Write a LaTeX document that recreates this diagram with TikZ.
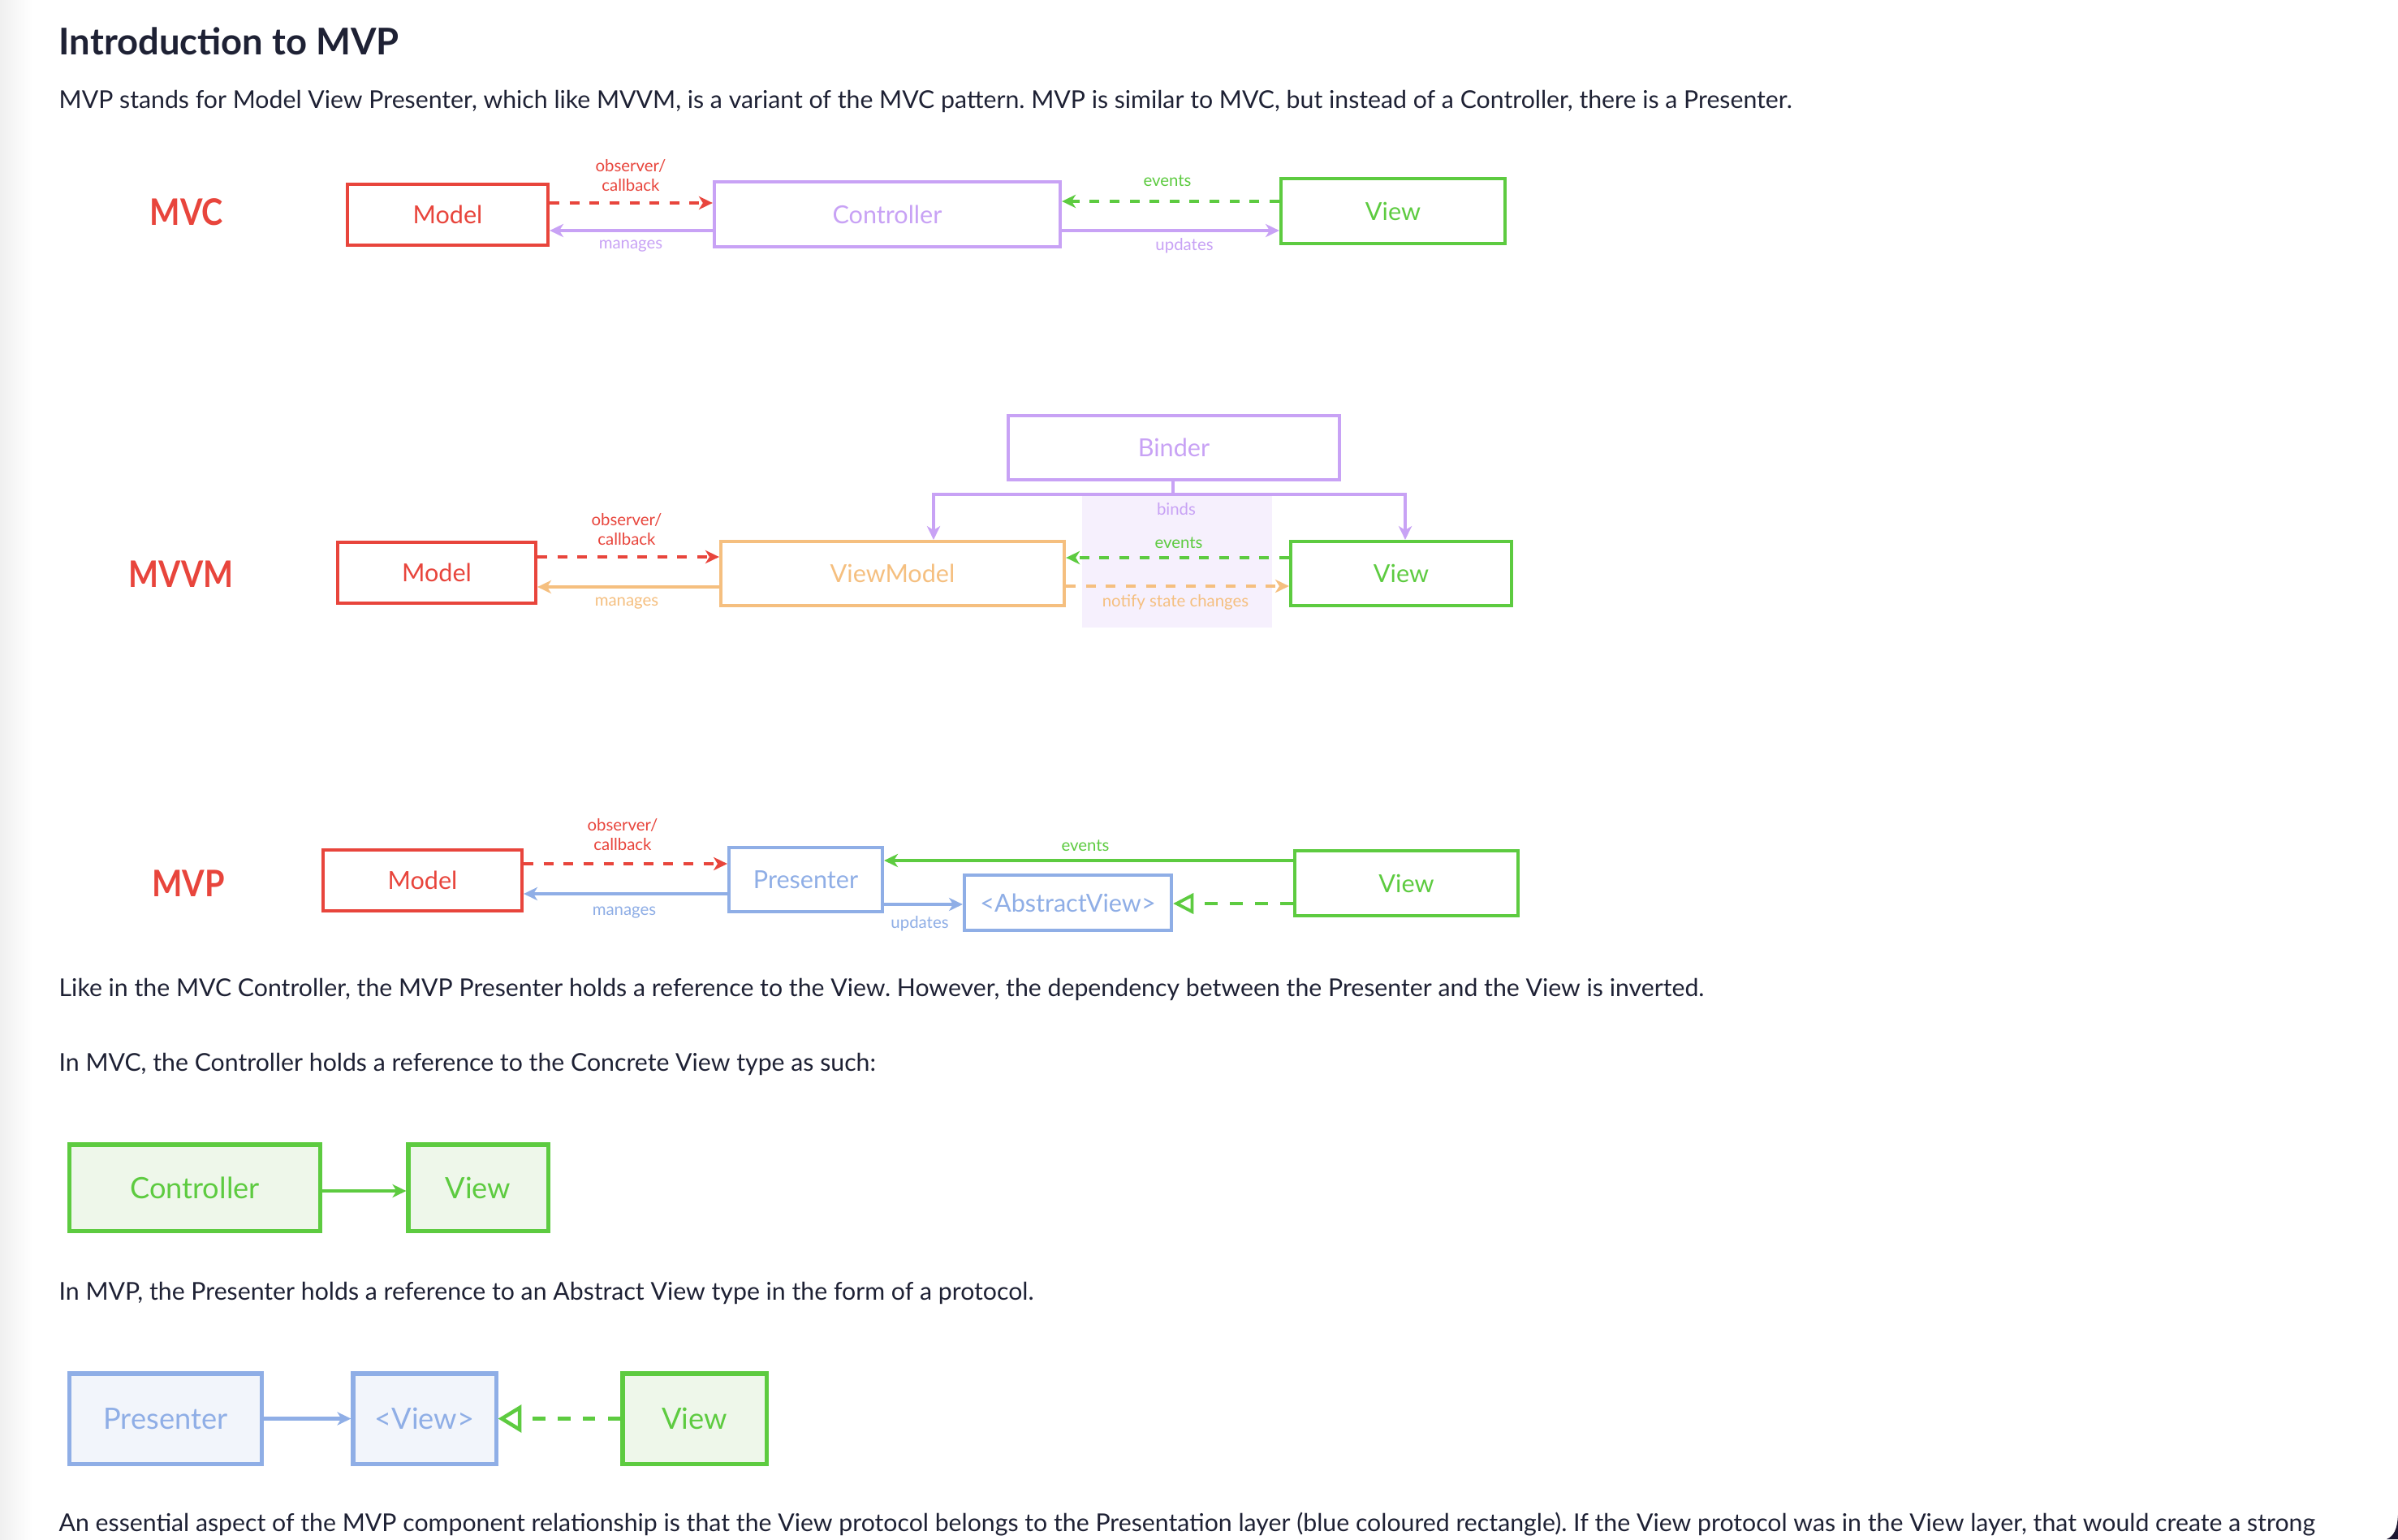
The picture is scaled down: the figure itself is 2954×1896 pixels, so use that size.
\documentclass[tikz,border=0pt]{standalone}
\usepackage{fontspec}
\setmainfont{Lato}
\usetikzlibrary{arrows.meta,calc}
\frenchspacing

\definecolor{ink}{HTML}{1E2134}
\definecolor{mvred}{HTML}{E8453C}
\definecolor{mvpurple}{HTML}{C8A2F5}
\definecolor{mvgreen}{HTML}{5DCB40}
\definecolor{mvorange}{HTML}{F5BF7F}
\definecolor{mvblue}{HTML}{8FAEE6}
\definecolor{lavshade}{HTML}{F6F0FD}
\definecolor{greenfill}{HTML}{EEF7EA}
\definecolor{bluefill}{HTML}{F2F5FB}
\definecolor{corner}{HTML}{1A1530}

\begin{document}
\begin{tikzpicture}[x=0.01cm,y=-0.01cm,
  box/.style={draw=#1, text=#1, line width=1.15pt, inner sep=0pt,
    font=\fontsize{8.7}{10}\selectfont},
  bigbox/.style={draw=#1, text=#1, line width=1.45pt, inner sep=0pt,
    font=\fontsize{10.3}{12}\selectfont},
  tag/.style={text=mvred, font=\fontsize{12.8}{14}\selectfont\bfseries, inner sep=0pt},
  lbl/.style={text=#1, font=\fontsize{5.8}{7}\selectfont, inner sep=0pt, align=center},
  para/.style={text=ink, anchor=base west, inner sep=0pt,
    font=\fontsize{8.6}{10}\selectfont},
  conn/.style={draw=#1, line width=1.1pt},
  tip/.style={-{Stealth[length=4.8pt,width=4.6pt,inset=1.4pt]}},
  dashline/.style={dash pattern=on 3.4pt off 3.6pt},
  longdash/.style={dash pattern=on 4.5pt off 4.3pt},
  realize/.style={-{Triangle[open,length=7.2pt,width=7.2pt,fill=white]}},
  realizebig/.style={-{Triangle[open,length=8.2pt,width=9.6pt,fill=white]}},
]
\useasboundingbox (0,0) rectangle (2954,1896);
\fill[white] (0,0) rectangle (2954,1896);
\shade[left color=black!6, right color=white] (0,0) rectangle (40,1896);

% ---------- text ----------
\node[para, font=\fontsize{12.9}{14}\selectfont\bfseries] (title) at (72,67) {Introduction to MVP};
\node[para] (p1) at (72,133) {MVP stands for Model View Presenter, which like MVVM, is a variant of the MVC pattern. MVP is similar to MVC, but instead of a Controller, there is a Presenter.};
\node[para] (p2) at (72,1227) {Like in the MVC Controller, the MVP Presenter holds a reference to the View. However, the dependency between the Presenter and the View is inverted.};
\node[para] (p3) at (72,1319) {In MVC, the Controller holds a reference to the Concrete View type as such:};
\node[para] (p4) at (72,1601) {In MVP, the Presenter holds a reference to an Abstract View type in the form of a protocol.};
\node[para] (p5) at (72,1886) {An essential aspect of the MVP component relationship is that the View protocol belongs to the Presentation layer (blue coloured rectangle). If the View protocol was in the View layer, that would create a strong};

% ---------- MVC ----------
\node[tag] (mvcTag) at (230,261) {\scalebox{0.88}[1]{MVC}};
\node[box=mvred, minimum width=2.47cm, minimum height=0.75cm] (mvcModel) at (551.5,264.5) {Model};
\node[box=mvpurple, minimum width=4.26cm, minimum height=0.80cm] (mvcCtrl) at (1093,264) {Controller};
\node[box=mvgreen, minimum width=2.76cm, minimum height=0.80cm] (mvcView) at (1716,260) {View};
\coordinate (r1a) at (0,250);
\coordinate (r1b) at (0,284);
\coordinate (r1c) at (0,248);
\draw[conn=mvred, dashline, tip, mvred] (mvcModel.east |- r1a) -- (mvcCtrl.west |- r1a);
\draw[conn=mvpurple, tip, mvpurple] (mvcCtrl.west |- r1b) -- (mvcModel.east |- r1b);
\draw[conn=mvgreen, dashline, tip, mvgreen] (mvcView.west |- r1c) -- (mvcCtrl.east |- r1c);
\draw[conn=mvpurple, tip, mvpurple] (mvcCtrl.east |- r1b) -- (mvcView.west |- r1b);
\node[lbl=mvred] (mvcObs) at (777,216) {observer/\\callback};
\node[lbl=mvpurple] (mvcMan) at (777,303) {manages};
\node[lbl=mvgreen] (mvcEv) at (1438,223) {events};
\node[lbl=mvpurple] (mvcUpd) at (1459,303) {updates};

% ---------- MVVM ----------
\fill[lavshade] (1333,611) rectangle (1567,773);
\node[tag] (mvvmTag) at (223,707) {\scalebox{0.87}[1]{MVVM}};
\node[box=mvred, minimum width=2.44cm, minimum height=0.75cm] (vmModel) at (538,705.5) {Model};
\node[box=mvorange, minimum width=4.23cm, minimum height=0.79cm] (vmVM) at (1099.5,706.5) {ViewModel};
\node[box=mvgreen, minimum width=2.72cm, minimum height=0.79cm] (vmView) at (1726,706.5) {View};
\node[box=mvpurple, minimum width=4.08cm, minimum height=0.79cm] (binder) at (1446,551.5) {Binder};
\coordinate (bj) at (1445,609);
\coordinate (bl) at (1150,609);
\coordinate (br) at (1731,609);
\draw[conn=mvpurple] (binder.south -| bj) -- (bj);
\draw[conn=mvpurple, tip, mvpurple] (bj) -- (bl) -- (bl |- vmVM.north);
\draw[conn=mvpurple, tip, mvpurple] (bj) -- (br) -- (br |- vmView.north);
\coordinate (r2a) at (0,686);
\coordinate (r2b) at (0,723);
\coordinate (r2c) at (0,687);
\coordinate (r2d) at (0,722);
\draw[conn=mvred, dashline, tip, mvred] (vmModel.east |- r2a) -- (vmVM.west |- r2a);
\draw[conn=mvorange, tip, mvorange] (vmVM.west |- r2b) -- (vmModel.east |- r2b);
\draw[conn=mvgreen, dashline, tip, mvgreen] (vmView.west |- r2c) -- (vmVM.east |- r2c);
\draw[conn=mvorange, dashline, tip, mvorange] (vmVM.east |- r2d) -- (vmView.west |- r2d);
\node[lbl=mvred] (vmObs) at (772,652) {observer/\\callback};
\node[lbl=mvorange] (vmMan) at (772,743) {manages};
\node[lbl=mvpurple] (vmBinds) at (1449,627) {binds};
\node[lbl=mvgreen] (vmEv) at (1452,669) {events};
\node[lbl=mvorange] (vmNotify) at (1448,742) {notify state changes};

% ---------- MVP ----------
\node[tag] (mvpTag) at (232,1088) {\scalebox{0.88}[1]{MVP}};
\node[box=mvred, minimum width=2.45cm, minimum height=0.75cm] (mpModel) at (520.5,1084.5) {Model};
\node[box=mvblue, minimum width=1.89cm, minimum height=0.79cm] (pres) at (992.5,1083.5) {Presenter};
\node[box=mvblue, minimum width=2.55cm, minimum height=0.68cm] (absView) at (1315.5,1112) {<AbstractView>};
\node[box=mvgreen, minimum width=2.75cm, minimum height=0.80cm] (mpView) at (1732.5,1088) {View};
\coordinate (r3a) at (0,1064);
\coordinate (r3b) at (0,1101);
\coordinate (r3c) at (0,1060);
\coordinate (r3d) at (0,1114);
\coordinate (r3e) at (0,1113);
\draw[conn=mvred, dashline, tip, mvred] (mpModel.east |- r3a) -- (pres.west |- r3a);
\draw[conn=mvblue, tip, mvblue] (pres.west |- r3b) -- (mpModel.east |- r3b);
\draw[conn=mvgreen, tip, mvgreen] (mpView.west |- r3c) -- (pres.east |- r3c);
\draw[conn=mvblue, tip, mvblue] (pres.east |- r3d) -- (absView.west |- r3d);
\draw[conn=mvgreen, longdash, realize, mvgreen] (mpView.west |- r3e) -- (absView.east |- r3e);
\node[lbl=mvred] (mpObs) at (767,1028) {observer/\\callback};
\node[lbl=mvblue] (mpMan) at (769,1124) {manages};
\node[lbl=mvgreen] (mpEv) at (1337,1042) {events};
\node[lbl=mvblue] (mpUpd) at (1133,1138) {updates};

% ---------- concrete view reference ----------
\node[bigbox=mvgreen, fill=greenfill, minimum width=3.08cm, minimum height=1.06cm] (ctrl2) at (240,1463) {Controller};
\node[bigbox=mvgreen, fill=greenfill, minimum width=1.72cm, minimum height=1.06cm] (view2) at (589,1463) {View};
\coordinate (r4) at (0,1467);
\draw[conn=mvgreen, line width=1.3pt, tip, mvgreen] (ctrl2.east |- r4) -- (view2.west |- r4);

% ---------- protocol reference ----------
\node[bigbox=mvblue, fill=bluefill, minimum width=2.36cm, minimum height=1.11cm] (pres2) at (204,1747.5) {Presenter};
\node[bigbox=mvblue, fill=bluefill, minimum width=1.76cm, minimum height=1.11cm] (iview) at (523,1747.5) {<View>};
\node[bigbox=mvgreen, fill=greenfill, minimum width=1.77cm, minimum height=1.11cm] (view3) at (855.5,1747.5) {View};
\draw[conn=mvblue, line width=1.3pt, tip, mvblue] (pres2) -- (iview);
\draw[conn=mvgreen, line width=1.3pt, longdash, realizebig, mvgreen] (view3) -- (iview);

% window corner
\fill[corner] (2954,1866) .. controls (2953,1884) and (2949,1892) .. (2940,1896) -- (2954,1896) -- cycle;
\end{tikzpicture}
\end{document}
